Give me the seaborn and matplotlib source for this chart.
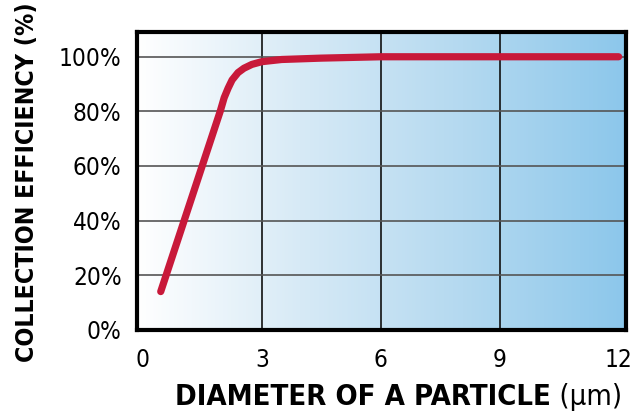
import numpy as np
import pandas as pd
import matplotlib.pyplot as plt
import seaborn as sns
from matplotlib.colors import LinearSegmentedColormap

# Particle diameter (um) vs collection efficiency (%)
diameter = [0.45, 1.2, 1.95, 2.05, 2.15, 2.25, 2.4, 2.55, 2.75, 3.0, 3.5, 4.5, 6, 9, 12]
efficiency = [14, 47, 80, 85, 88.5, 91.5, 94.2, 95.8, 97.2, 98.2, 99, 99.5, 100, 100, 100]

x_ticks = [0, 3, 6, 9, 12]
y_ticks = [0, 20, 40, 60, 80, 100]
y_tick_labels = [f"{v}%" for v in y_ticks]

df = pd.DataFrame({"diameter": diameter, "efficiency": efficiency})

sns.set_style("white")
plt.rcParams['font.family'] = ['DejaVu Sans']
plt.rcParams['text.color'] = 'black'

fig = plt.figure(figsize=(6.34, 4.18), dpi=100)
ax = fig.add_axes([0.216, 0.211, 0.771, 0.712])

xlim = (-0.15, 12.18)
ylim = (0, 109)

# background gradient, white on the left to light blue on the right
cmap = LinearSegmentedColormap.from_list("bg", ["#ffffff", "#d7eaf6", "#b4d9f0", "#8cc7eb"])
grad = np.linspace(0, 1, 256).reshape(1, -1)
ax.imshow(grad, cmap=cmap, aspect="auto", extent=[xlim[0], xlim[1], ylim[0], ylim[1]],
          zorder=0, interpolation="bicubic")

# grid
for xv in x_ticks[1:-1]:
    ax.axvline(xv, color="#111111", lw=1.2, zorder=1)
for yv in y_ticks[1:]:
    ax.axhline(yv, color="#555555", lw=1.2, zorder=1)

sns.lineplot(data=df, x="diameter", y="efficiency", ax=ax, color="#c8193a",
             linewidth=5.2, solid_capstyle="round", solid_joinstyle="round", zorder=3)

ax.set_xlim(*xlim)
ax.set_ylim(*ylim)
ax.set_xticks(x_ticks)
ax.set_xticklabels([str(v) for v in x_ticks], fontsize=17.5, fontstretch="condensed")
ax.set_yticks(y_ticks)
ax.set_yticklabels(y_tick_labels, fontsize=17.5, fontstretch="condensed")
ax.tick_params(axis="y", length=0, pad=11, colors="black")
ax.tick_params(axis="x", length=0, pad=13, colors="black")

for s in ax.spines.values():
    s.set_visible(True)
    s.set_color("black")
    s.set_linewidth(3)
    s.set_zorder(5)

ax.set_xlabel("")
ax.set_ylabel("")

xl = fig.text(0.276, 0.03, "DIAMETER OF A PARTICLE", fontsize=21, fontweight="bold",
              fontstretch="condensed", ha="left", va="baseline")
ax.annotate(" (\u03bcm)", xy=(1, 0), xycoords=xl, fontsize=21, ha="left", va="bottom",
            fontstretch="condensed")

fig.text(0.042, 0.565, "COLLECTION EFFICIENCY (%)", fontsize=17.8, fontweight="bold",
         fontstretch="condensed", rotation=90, ha="center", va="center")

fig.savefig("out.png", dpi=100)
